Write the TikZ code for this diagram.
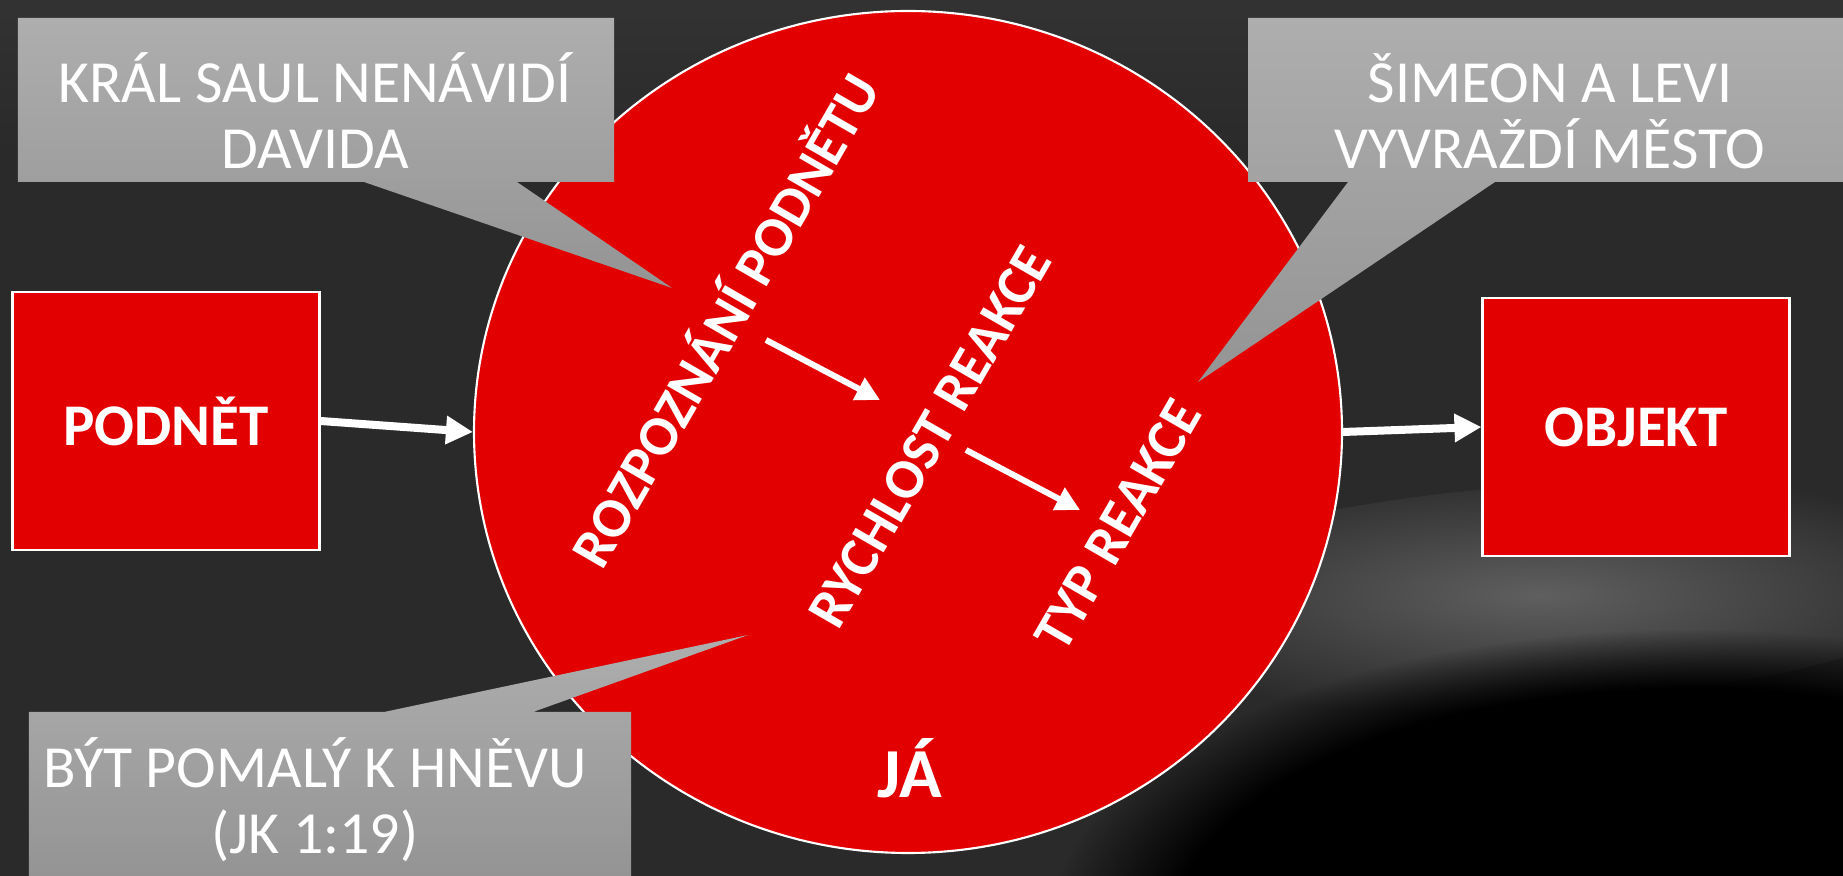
\documentclass[tikz,border=0pt]{standalone}
\usepackage{fontspec}
\setmainfont{Carlito}
\usetikzlibrary{shapes.geometric}
\usetikzlibrary{arrows.meta}
\usetikzlibrary{fadings}
\definecolor{slidered}{RGB}{227,0,0}
\definecolor{slidebg}{RGB}{42,42,42}
\definecolor{rockgray}{RGB}{95,95,95}
\definecolor{calltop}{RGB}{174,174,174}
\definecolor{callbottom}{RGB}{148,148,148}
\tikzfading[name=fadedown, top color=transparent!0, bottom color=transparent!100]

\begin{document}
\begin{tikzpicture}[
  redbox/.style={draw=white, line width=0.6pt, fill=slidered, minimum width=3.07cm, minimum height=2.58cm, text=white, font=\fontsize{16.8}{20}\selectfont\bfseries},
  callout/.style={top color=calltop, bottom color=callbottom},
  calltext/.style={text=white, align=center, font=\fontsize{17}{18.8}\selectfont},
  steptext/.style={text=white, rotate=60, font=\fontsize{16}{19}\selectfont\bfseries},
  bigarrow/.style={draw=white, line width=0.08cm, -{Triangle[length=0.27cm,width=0.27cm]}},
  smallarrow/.style={draw=white, line width=0.06cm, -{Triangle[length=0.24cm,width=0.24cm]}},
]
%% background
\useasboundingbox (0,0) rectangle (18.43,-8.76);
\fill[slidebg] (0,0) rectangle (18.43,-8.76);
\fill[black!80, path fading=fadedown] (0,0) rectangle (18.43,-1.6);
\shade[inner color=rockgray, outer color=slidebg, rotate around={4:(15.4,-5.95)}] (15.4,-5.95) ellipse (4.6cm and 1.1cm);
\fill[black, path fading=circle with fuzzy edge 20 percent] (16.9,-9.3) ellipse (6.4cm and 3.0cm);
%% me
\node[ellipse, draw=white, line width=0.6pt, fill=slidered, minimum width=8.68cm, minimum height=8.42cm] (ja) at (9.08,-4.32) {};
\node[text=white, font=\fontsize{20}{24}\selectfont\bfseries] (jalabel) at (9.10,-7.68) {JÁ};
%% stimulus and object
\node[redbox] (podnet) at (1.66,-4.21) {PODNĚT};
\node[redbox] (objekt) at (16.36,-4.27) {OBJEKT};
\draw[bigarrow] (podnet.east) -- (ja.west);
\draw[bigarrow] (ja.east) -- (objekt.west);
%% steps
\node[steptext] (rozpoznani) at (7.22,-3.18) {ROZPOZNÁNÍ PODNĚTU};
\node[steptext] (rychlost) at (9.30,-4.37) {RYCHLOST REAKCE};
\node[steptext] (typ) at (11.18,-5.25) {TYP REAKCE};
\coordinate (k1a) at (7.66,-3.40);
\coordinate (k1b) at (8.80,-4.00);
\coordinate (k2a) at (9.66,-4.50);
\coordinate (k2b) at (10.80,-5.10);
\foreach \a/\b in {k1a/k1b,k2a/k2b}
  \draw[smallarrow] (\a) -- (\b);
%% callouts
\path[callout] (0.18,-0.18) -- (6.14,-0.18) -- (6.14,-1.82) -- (5.17,-1.82) -- (6.72,-2.88) -- (3.64,-1.82) -- (0.18,-1.82) -- cycle;
\node[calltext] (saul) at (3.15,-1.11) {KRÁL SAUL NENÁVIDÍ\\DAVIDA};
\path[callout] (12.48,-0.18) -- (18.43,-0.18) -- (18.43,-1.82) -- (14.95,-1.82) -- (11.98,-3.82) -- (13.48,-1.82) -- (12.48,-1.82) -- cycle;
\node[calltext] (simeon) at (15.5,-1.11) {ŠIMEON A LEVI\\VYVRAŽDÍ MĚSTO};
\path[callout] (0.29,-7.12) -- (3.84,-7.12) -- (7.48,-6.35) -- (5.33,-7.12) -- (6.31,-7.12) -- (6.31,-8.76) -- (0.29,-8.76) -- cycle;
\node[calltext] (hnev) at (3.15,-8.0) {BÝT POMALÝ K HNĚVU\\(JK 1:19)};
\end{tikzpicture}
\end{document}
